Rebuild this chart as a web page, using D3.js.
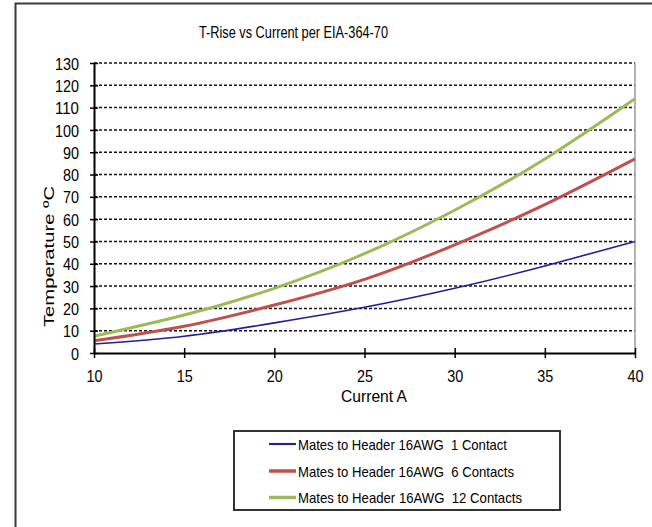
<!DOCTYPE html>
<html><head><meta charset="utf-8">
<script src="https://cdn.jsdelivr.net/npm/d3@7"></script>
<style>
html,body{margin:0;padding:0;background:#fff;}
svg text{font-family:"Liberation Sans Narrow","Arial Narrow","Liberation Sans",Arial,sans-serif;fill:#000;}
</style></head>
<body><svg id="c" width="652" height="527"></svg>
<script>
const title = "T-Rise vs Current per EIA-364-70";
const xTitle = "Current A";
const yTitle = "Temperature ºC";
const currents = [10, 15, 20, 25, 30, 35, 40];
const oneContact = [4, 7.5, 13.5, 20.5, 29, 39, 50];
const sixContacts = [5.5, 12, 21.5, 33, 48.5, 66.5, 87];
const twelveContacts = [7.5, 17, 29, 44.5, 64, 87, 114];
const seriesNames = ["Mates to Header 16AWG  1 Contact", "Mates to Header 16AWG  6 Contacts", "Mates to Header 16AWG  12 Contacts"];
const seriesColors = ["#1F1F9A", "#C0504D", "#9BBB59"];
const seriesWidths = [1.6, 3, 3];
const xTicks = [10, 15, 20, 25, 30, 35, 40];
const yTicks = [0, 10, 20, 30, 40, 50, 60, 70, 80, 90, 100, 110, 120, 130];

const svg = d3.select("#c");
const L = 94, R = 635, T = 63, B = 353;
const x = d3.scaleLinear().domain([10, 40]).range([L, R]);
const y = d3.scaleLinear().domain([0, 130]).range([B, T]);

// outer frame
svg.append("rect").attr("x", 15.5).attr("y", 3.5).attr("width", 700).attr("height", 600)
  .attr("fill", "none").attr("stroke", "#3a3a3a").attr("stroke-width", 2);

// title
svg.append("text").attr("x", 199).attr("y", 38).attr("font-size", 16)
  .attr("textLength", 189).attr("lengthAdjust", "spacingAndGlyphs").text(title);

// grid lines
svg.append("g").selectAll("line").data(yTicks.filter(d => d > 0)).join("line")
  .attr("x1", L).attr("x2", R).attr("y1", d => y(d)).attr("y2", d => y(d))
  .attr("stroke", "#111").attr("stroke-width", 1.5).attr("stroke-dasharray", "3,2");

// right border of plot
svg.append("line").attr("x1", R).attr("x2", R).attr("y1", T).attr("y2", B)
  .attr("stroke", "#9a9a9a").attr("stroke-width", 1.5);

// series
const series = [oneContact, sixContacts, twelveContacts];
const line = d3.line().x((d, i) => x(currents[i])).y(d => y(d)).curve(d3.curveNatural);
series.forEach((s, k) => {
  svg.append("path").datum(s).attr("d", line).attr("fill", "none")
    .attr("stroke", seriesColors[k]).attr("stroke-width", seriesWidths[k]);
});

// axes
const yAxis = d3.axisLeft(y).tickValues(yTicks).tickSizeInner(4).tickSizeOuter(0).tickPadding(11);
const gy = svg.append("g").attr("transform", `translate(${L},0)`).call(yAxis);
const xAxis = d3.axisBottom(x).tickValues(xTicks).tickSizeInner(5).tickSizeOuter(0).tickPadding(12);
const gx = svg.append("g").attr("transform", `translate(0,${B})`).call(xAxis);
[gx, gy].forEach(g => {
  g.select(".domain").attr("stroke", "#000").attr("stroke-width", 2);
  g.selectAll(".tick line").attr("stroke", "#000").attr("stroke-width", 1.5);
  g.selectAll(".tick text").attr("font-size", 17).attr("font-family", null).attr("fill", "#000")
    .attr("textLength", d => String(d).length * 8).attr("lengthAdjust", "spacingAndGlyphs");
});
// cross ticks
gy.selectAll(".tick line").attr("x1", 4).attr("x2", -4);
gx.selectAll(".tick line").attr("y1", -5).attr("y2", 5);
gx.selectAll(".tick text").attr("dy", "0.71em");
gy.selectAll(".tick text").attr("dy", "0.36em");

// axis titles
svg.append("text").attr("x", 341).attr("y", 402).attr("font-size", 17)
  .attr("textLength", 66).attr("lengthAdjust", "spacingAndGlyphs").text(xTitle);
svg.append("text").attr("transform", "translate(54,327) rotate(-90)").attr("font-size", 15)
  .attr("textLength", 141).attr("lengthAdjust", "spacingAndGlyphs").text(yTitle);

// legend
const lg = svg.append("g");
lg.append("rect").attr("x", 234).attr("y", 431).attr("width", 326).attr("height", 79)
  .attr("fill", "#fff").attr("stroke", "#333").attr("stroke-width", 2);
const rowsY = [444, 471, 497.5];
const textLens = [209, 216, 224];
seriesNames.forEach((n, k) => {
  lg.append("line").attr("x1", 269).attr("x2", 296).attr("y1", rowsY[k]).attr("y2", rowsY[k])
    .attr("stroke", seriesColors[k]).attr("stroke-width", seriesWidths[k] + 0.5);
  lg.append("text").attr("x", 298).attr("y", rowsY[k] + 5.5).attr("font-size", 15)
    .style("white-space", "pre").attr("textLength", textLens[k]).attr("lengthAdjust", "spacingAndGlyphs").text(n);
});
</script></body></html>
